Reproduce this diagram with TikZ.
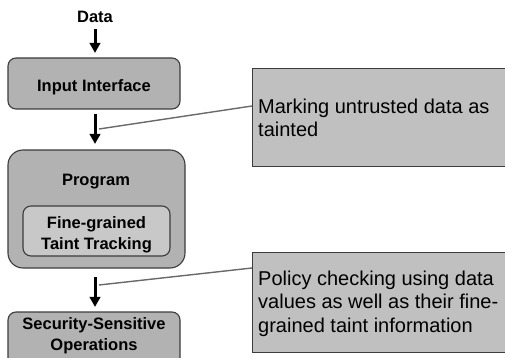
\documentclass[tikz,border=0pt]{standalone}
\usepackage{fontspec}
\setmainfont{Liberation Sans}
\usepackage{tikz}
\usetikzlibrary{
    positioning,
    arrows.meta
}
\definecolor{boxGray}{RGB}{178, 178, 178}
\definecolor{innerGray}{RGB}{200, 200, 200}
\definecolor{noteGray}{RGB}{192, 192, 192}
\definecolor{edgeGray}{RGB}{60, 60, 60}
\definecolor{leaderGray}{RGB}{105, 105, 105}

\begin{document}
\begin{tikzpicture}[x=1pt, y=-1pt,
    stage/.style={draw=edgeGray, line width=1.1pt, fill=boxGray, rounded corners=8pt, inner sep=0pt},
    note/.style={draw=edgeGray, line width=1.1pt, fill=noteGray, inner sep=0pt, anchor=north west},
    tag/.style={font=\fontsize{16.5}{21}\selectfont\bfseries, align=center, inner sep=0pt},
    notetext/.style={font=\fontsize{20}{23.5}\selectfont, align=left, inner sep=0pt, anchor=north west},
    flow/.style={line width=3pt, -{Triangle[length=10pt, width=10.5pt]}},
    leader/.style={draw=leaderGray, line width=1.4pt}]

        % frame
        \useasboundingbox (0,0) rectangle (505,358);
        \clip (0,0) rectangle (505,358);

        % left column
        \node[stage, minimum width=172pt, minimum height=51pt] (input) at (94,83.5) {};
        \node[stage, rounded corners=15pt, minimum width=177pt, minimum height=118pt] (prog) at (96.5,209) {};
        \node[stage, fill=innerGray, minimum width=147pt, minimum height=50pt] (track) at (96.5,231) {};
        \node[stage, minimum width=172pt, minimum height=63pt] (secure) at (94,343.5) {};

        \node[tag, anchor=base] (dataTxt) at (95,22.7) {Data};
        \node[tag, anchor=base] (inputTxt) at (94,91.7) {Input Interface};
        \node[tag, anchor=base] (progTxt) at (96,185) {Program};
        \node[tag, anchor=north] (trackTxt) at (96.5,216.5) {Fine-grained\\Taint Tracking};
        \node[tag, anchor=north] (secureTxt) at (94,317.3) {Security-Sensitive\\Operations};

        % flow
        \draw[flow, shorten <=6.3pt, shorten >=4.5pt] (dataTxt.south) -- (dataTxt.south |- input.north);
        \draw[flow, shorten <=4.5pt, shorten >=5.5pt] (input.south -| dataTxt) -- (prog.north -| dataTxt);
        \draw[flow, shorten <=8.5pt, shorten >=4.5pt] (prog.south -| dataTxt) -- (secure.north -| dataTxt);

        % callouts
        \node[note, minimum width=270pt, minimum height=98pt] (mark) at (252,68) {};
        \node[note, minimum width=270pt, minimum height=100pt] (policy) at (252,252) {};
        \node[notetext] (markTxt) at (258,98.5) {Marking untrusted data as\\tainted};
        \node[notetext] (policyTxt) at (258,270.5) {Policy checking using data\\values as well as their fine-\\grained taint information};

        \coordinate (hook1) at (99,129);
        \coordinate (hook2) at (99,285);
        \draw[leader] (hook1) -- ([yshift=-38pt]mark.north west);
        \draw[leader] (hook2) -- ([yshift=-16pt]policy.north west);
    \end{tikzpicture}
\end{document}
